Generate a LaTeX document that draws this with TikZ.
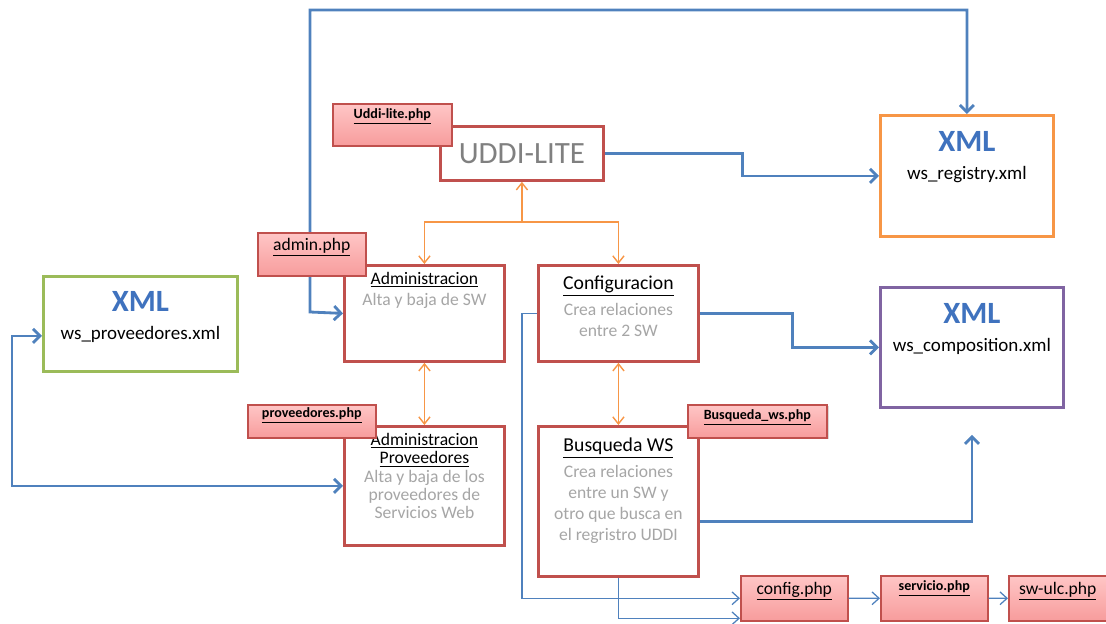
\documentclass[tikz,border=0pt]{standalone}
\usepackage{fontspec}
\setmainfont{Carlito}
\usetikzlibrary{arrows.meta,shadows}
\definecolor{boxred}{HTML}{C0504D}
\definecolor{regorange}{HTML}{F79646}
\definecolor{provgreen}{HTML}{9BBB59}
\definecolor{comppurple}{HTML}{8064A2}
\definecolor{linkblue}{HTML}{4F81BD}
\definecolor{xmlblue}{HTML}{3F72BE}
\definecolor{descgray}{HTML}{A6A6A6}
\definecolor{uddigray}{HTML}{808080}
\definecolor{tagtop}{HTML}{FFC6C6}
\definecolor{tagbottom}{HTML}{F79C9C}

\begin{document}
\begin{tikzpicture}[x=0.025cm,y=-0.025cm,
  box/.style={draw=boxred,line width=2pt,fill=white,anchor=north west,inner sep=0pt},
  xmlbox/.style={draw=#1,line width=2pt,fill=white,anchor=north west,inner sep=0pt,
    minimum width=4.45cm,minimum height=3cm},
  tag/.style={draw=boxred,line width=1.1pt,top color=tagtop,bottom color=tagbottom,
    anchor=north west,inner sep=0pt,
    drop shadow={shadow xshift=1.2pt,shadow yshift=-1.2pt,opacity=0.3}},
  tagfont/.style={font=\fontsize{12.5}{15}\selectfont},
  tagbold/.style={font=\fontsize{10}{12}\selectfont\bfseries},
  boxtext/.style={anchor=north,inner sep=0pt,align=center,font=\fontsize{12.5}{15}\selectfont},
  xmltext/.style={anchor=north,inner sep=0pt,align=center,font=\fontsize{13.5}{20}\selectfont},
  link/.style={draw=linkblue,line width=2pt,>={Straight Barb[length=5pt,width=10pt]}},
  thinlink/.style={draw=linkblue,line width=0.9pt,>={Straight Barb[length=5pt,width=9pt]}},
  orangelink/.style={draw=regorange,line width=1pt,>={Straight Barb[length=5pt,width=8pt]}}]

  \useasboundingbox (0,0) rectangle (1106,624);

  \node[box,minimum width=4.075cm,minimum height=1.35cm] (uddi) at (439,125)
    {\fontsize{22}{24}\selectfont\color{uddigray}UDDI-LITE};
  \node[xmlbox=regorange,minimum width=4.325cm,minimum height=3.025cm] (registry) at (879,114) {};
  \node[xmlbox=provgreen,minimum width=4.85cm,minimum height=2.375cm] (provxml) at (42,275) {};
  \node[xmlbox=comppurple,minimum width=4.575cm,minimum height=3cm] (comp) at (879,286) {};
  \node[box,minimum width=4cm,minimum height=2.4cm] (admin) at (343,264) {};
  \node[box,minimum width=4cm,minimum height=2.4cm] (config) at (537,264) {};
  \node[box,minimum width=4cm,minimum height=2.975cm] (adminprov) at (343,425) {};
  \node[box,minimum width=4cm,minimum height=3.75cm] (busqueda) at (537,425) {};

  \node[xmltext] (registry-t) at ([yshift=-0.43cm]registry.north)
    {{\fontsize{22}{20}\selectfont\bfseries\color{xmlblue}XML}\\ws\_registry.xml};
  \node[xmltext] (provxml-t) at ([yshift=-0.4cm]provxml.north)
    {{\fontsize{22}{20}\selectfont\bfseries\color{xmlblue}XML}\\ws\_proveedores.xml};
  \node[xmltext] (comp-t) at ([yshift=-0.43cm]comp.north)
    {{\fontsize{22}{20}\selectfont\bfseries\color{xmlblue}XML}\\ws\_composition.xml};
  \node[boxtext] (admin-t) at ([yshift=-0.2cm]admin.north)
    {\underline{Administracion}\\\color{descgray}Alta y baja de SW};
  \node[boxtext] (config-t) at ([yshift=-0.3cm]config.north)
    {{\fontsize{14}{15}\selectfont\underline{Configuracion}}\\[3pt]\color{descgray}Crea relaciones\\\color{descgray}entre 2 SW};
  \node[boxtext,font=\fontsize{12.5}{13}\selectfont] (adminprov-t) at ([yshift=-0.2cm]adminprov.north)
    {\underline{Administracion}\\\underline{Proveedores}\\\color{descgray}Alta y baja de los\\
     \color{descgray}proveedores de\\\color{descgray}Servicios Web};
  \node[boxtext] (busqueda-t) at ([yshift=-0.32cm]busqueda.north)
    {{\fontsize{14}{15}\selectfont\underline{Busqueda WS}}\\[3pt]\color{descgray}Crea relaciones\\\color{descgray}entre un SW y\\
     \color{descgray}otro que busca en\\\color{descgray}el regristro UDDI};

  \node[tag,tagfont,minimum width=2.675cm,text height=0.475cm,text depth=0.65cm] (configphp) at (740,575)
    {\underline{config.php}};
  \node[tag,tagbold,minimum width=2.675cm,text height=0.375cm,text depth=0.75cm] (servphp) at (880,575)
    {\underline{servicio.php}};
  \node[tag,tagfont,minimum width=2.45cm,text height=0.475cm,text depth=0.65cm] (swulc) at (1008,575)
    {\underline{sw-ulc.php}};

  \draw[link,<->] (admin.west) -- (310,312) -- (310,10) -| (registry.north);
  \draw[link,->] (uddi.east) -- ++(138,0) |- (registry.west);
  \draw[link,->] (config.east) -- ++(93,0) |- (comp.west);
  \coordinate (comp-in) at ([yshift=-0.65cm]comp.south);
  \draw[link,->] ([yshift=-0.5cm]busqueda.east) -| (comp-in);
  \draw[link,<->] ([yshift=-0.3cm]provxml.west) -- ++(-30,0) |- (adminprov.west);

  \coordinate (fork) at (uddi.south |- 0,222);
  \draw[orangelink,->] (fork) -- (uddi.south);
  \draw[orangelink,->] (fork) -| (admin.north);
  \draw[orangelink,->] (fork) -| (config.north);
  \draw[orangelink,<->] (admin.south) -- (adminprov.north);
  \draw[orangelink,<->] (config.south) -- (busqueda.north);

  \draw[thinlink,->] (config.west) -- ++(-15,0) |- (configphp.west);
  \draw[thinlink,->] (busqueda.south) |- ([yshift=-0.5cm]configphp.west);
  \draw[thinlink,->] (configphp.east) -- (servphp.west);
  \draw[thinlink,->] (servphp.east) -- (swulc.west);

  \node[tag,tagbold,minimum width=2.975cm,text height=0.375cm,text depth=0.675cm] (uddiphp) at (332,103)
    {\underline{Uddi-lite.php}};
  \node[tag,tagfont,minimum width=2.7cm,text height=0.45cm,text depth=0.625cm] (adminphp) at (257,232)
    {\underline{admin.php}};
  \node[tag,tagbold,minimum width=3.2cm,text height=0.325cm,text depth=0.5cm] (provphp) at (247,404)
    {\underline{proveedores.php}};
  \node[tag,tagbold,minimum width=3.475cm,text height=0.375cm,text depth=0.45cm] (busqphp) at (687,404)
    {\underline{Busqueda\_ws.php}};

\end{tikzpicture}
\end{document}
